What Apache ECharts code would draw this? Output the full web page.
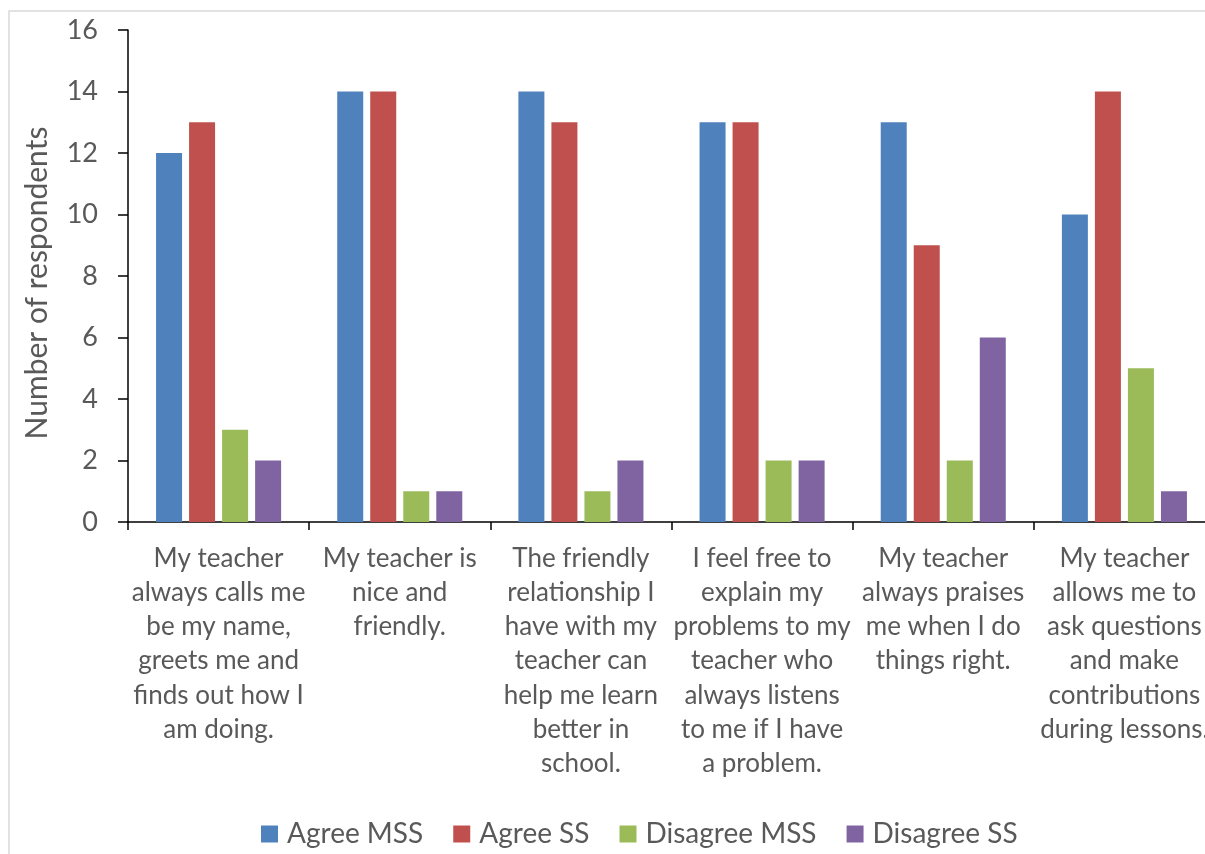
<!DOCTYPE html>
<html>
<head>
<meta charset="utf-8">
<script src="https://cdn.jsdelivr.net/npm/echarts@6/dist/echarts.min.js"></script>
<style>
html,body{margin:0;padding:0;overflow:hidden;background:#fff;}
#chart{width:1215px;height:854px;}
</style>
</head>
<body>
<div id="chart"></div>
<script>
const categories = [
  "My teacher\nalways calls me\nbe my name,\ngreets me and\nfinds out how I\nam doing.",
  "My teacher is\nnice and\nfriendly.",
  "The friendly\nrelationship I\nhave with my\nteacher can\nhelp me learn\nbetter in\nschool.",
  "I feel free to\nexplain my\nproblems to my\nteacher who\nalways listens\nto me if I have\na problem.",
  "My teacher\nalways praises\nme when I do\nthings right.",
  "My teacher\nallows me to\nask questions\nand make\ncontributions\nduring lessons."
];
const seriesNames = ["Agree MSS", "Agree SS", "Disagree MSS", "Disagree SS"];
const agreeMSS = [12, 14, 14, 13, 13, 10];
const agreeSS = [13, 14, 13, 13, 9, 14];
const disagreeMSS = [3, 1, 1, 2, 2, 5];
const disagreeSS = [2, 1, 2, 2, 6, 1];
const yTicks = {min: 0, max: 16, interval: 2};
const colors = ["#4F81BD", "#C0504D", "#9BBB59", "#8064A2"];

const FONT = "Lato";
const TXT = "#595959";
const values = [agreeMSS, agreeSS, disagreeMSS, disagreeSS];

const chart = echarts.init(document.getElementById('chart'), null, {renderer: 'canvas'});
chart.setOption({
  animation: false,
  textStyle: {fontFamily: FONT},
  graphic: [{
    type: 'rect',
    shape: {x: 9, y: 11, width: 1400, height: 1000},
    style: {fill: 'none', stroke: '#d9d9d9', lineWidth: 1.5},
    z: -1
  }],
  grid: {left: 128, top: 30, width: 1087, height: 492, containLabel: false},
  legend: {
    left: 256, top: 815,
    itemWidth: 17, itemHeight: 17, itemGap: 30,
    icon: 'rect',
    textStyle: {fontFamily: FONT, fontSize: 28, color: TXT, padding: [0, 0, 0, 4]},
    data: seriesNames
  },
  xAxis: {
    type: 'category',
    data: categories,
    axisLine: {lineStyle: {color: '#000', width: 1.5}},
    axisTick: {show: true, length: 8, lineStyle: {color: '#000', width: 1.5}},
    axisLabel: {interval: 0, color: TXT, fontFamily: FONT, fontSize: 26, lineHeight: 34.3, margin: 19, align: 'center'}
  },
  yAxis: {
    type: 'value',
    min: yTicks.min, max: yTicks.max, interval: yTicks.interval,
    name: 'Number of respondents',
    nameLocation: 'middle',
    nameGap: 76,
    nameTextStyle: {fontFamily: FONT, fontSize: 30, color: TXT, padding: [0, 14, 0, 0]},
    splitLine: {show: false},
    axisLine: {show: true, lineStyle: {color: '#000', width: 1.5}},
    axisTick: {show: true, length: 10, lineStyle: {color: '#000', width: 1.5}},
    axisLabel: {color: TXT, fontFamily: FONT, fontSize: 27, margin: 30}
  },
  series: seriesNames.map((n, i) => ({
    name: n,
    type: 'bar',
    data: values[i],
    barWidth: 26,
    barGap: '27%',
    itemStyle: {color: colors[i]}
  }))
});
</script>
</body>
</html>
